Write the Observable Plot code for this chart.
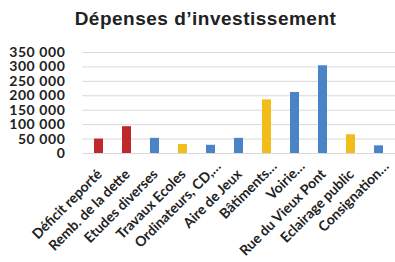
<!DOCTYPE html>
<html>
<head>
<meta charset="utf-8">
<script src="https://cdn.jsdelivr.net/npm/d3@7"></script>
<script src="https://cdn.jsdelivr.net/npm/@observablehq/plot@0.6"></script>
<style>
  html, body { margin: 0; padding: 0; background: #fff; }
  #wrap { width: 395px; height: 262px; overflow: hidden; }
  #title { height: 38px; margin: 0; font: bold 19px "Liberation Sans", Arial, sans-serif; letter-spacing: 0.5px; color: #222; text-align: center; line-height: 38px; padding-left: 16px; box-sizing: border-box; }
  #chart svg g[aria-label="y-axis tick label"] text { letter-spacing: 0.6px; }
</style>
</head>
<body>
<div id="wrap">
  <div id="title">Dépenses d’investissement</div>
  <div id="chart"></div>
</div>
<script>
const categories = ["Déficit reporté", "Remb. de la dette", "Etudes diverses", "Travaux Ecoles", "Ordinateurs, CD,…", "Aire de Jeux", "Bâtiments…", "Voirie…", "Rue du Vieux Pont", "Eclairage public", "Consignation…"];
const values = [50000, 93000, 52500, 31000, 28500, 52500, 186000, 211500, 304000, 65000, 26500];
const groups = ["g1", "g1", "g2", "g3", "g2", "g2", "g3", "g2", "g2", "g3", "g2"];
const yTicks = [0, 50000, 100000, 150000, 200000, 250000, 300000, 350000];

const groupNames = ["g1", "g2", "g3"];
const groupColors = ["#C0282B", "#4A84C6", "#F2BC1A"];
const data = categories.map((c, i) => ({ category: c, value: values[i], group: groups[i] }));
const fmt = d => d3.format(",")(d).replace(/,/g, " ");
const truncated = categories.filter(c => c.endsWith("…"));
const full = categories.filter(c => !c.endsWith("…"));

const chart = Plot.plot({
  width: 395,
  height: 224,
  marginLeft: 82,
  marginRight: 0,
  marginTop: 14,
  marginBottom: 109,
  style: { fontFamily: "Lato, sans-serif", fontWeight: "bold", color: "#222", background: "#fff" },
  x: { domain: categories, paddingInner: 0.667, paddingOuter: 0.333 },
  y: { domain: [0, 350000] },
  color: { domain: groupNames, range: groupColors },
  marks: [
    Plot.gridY(yTicks, { stroke: "#d9d9d9", strokeOpacity: 1, strokeWidth: 1 }),
    Plot.barY(data, { x: "category", y: "value", fill: "group" }),
    Plot.axisY(yTicks, { tickSize: 0, tickPadding: 17, tickFormat: fmt, fontSize: 14, label: null }),
    Plot.axisX(full, { tickSize: 0, tickRotate: -45, fontSize: 14, label: null, tickPadding: 18.5, dx: 0.5 }),
    Plot.axisX(truncated, { tickSize: 0, tickRotate: -45, fontSize: 14, label: null, tickPadding: 10.5, dx: 7.5 })
  ]
});
document.getElementById("chart").appendChild(chart);
</script>
</body>
</html>
